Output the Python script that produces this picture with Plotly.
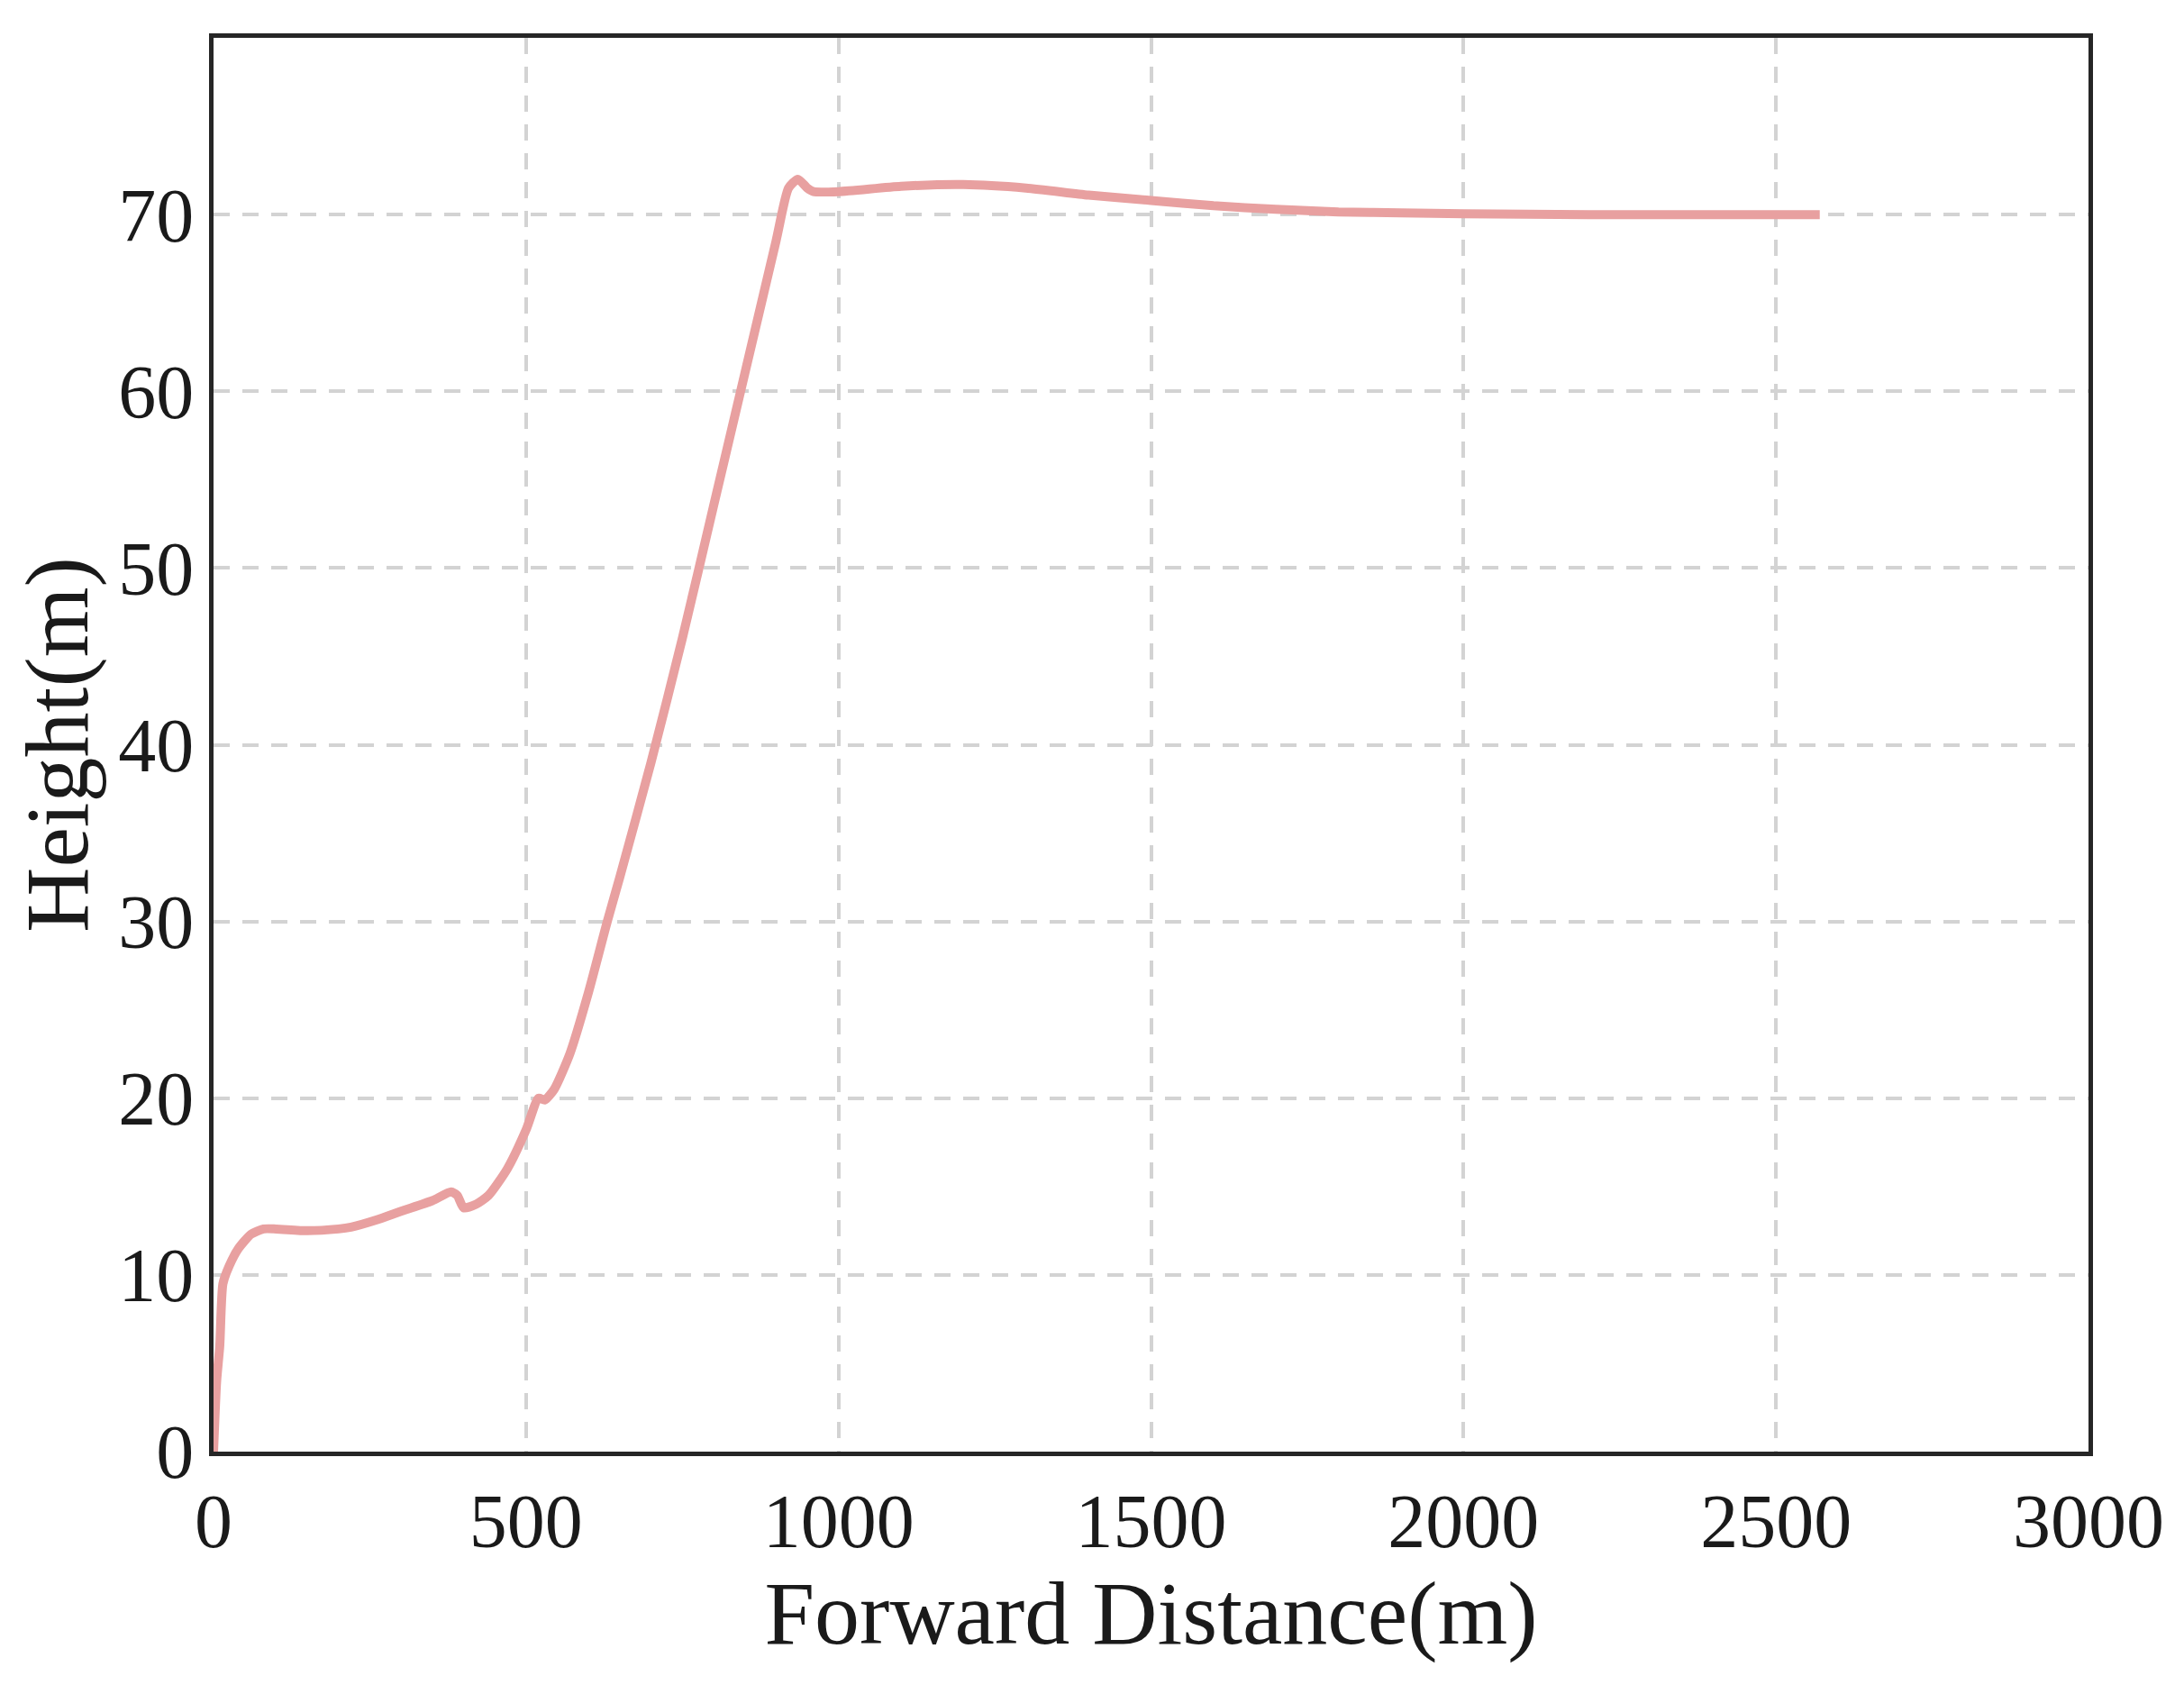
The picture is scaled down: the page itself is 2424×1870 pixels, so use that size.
import plotly.graph_objects as go

distance = [0, 5, 10, 15, 25, 40, 60, 80, 100, 150, 200, 220, 260, 300, 350, 380, 390, 400, 420, 440, 470, 500, 520, 530, 545, 570, 600, 630, 650, 700, 750, 800, 850, 900, 920, 935, 950, 960, 1000, 1100, 1200, 1300, 1400, 1500, 1600, 1700, 1800, 1900, 2000, 2200, 2400, 2570]
height = [0, 4, 6, 9.5, 10.5, 11.5, 12.3, 12.6, 12.6, 12.5, 12.6, 12.7, 13.1, 13.6, 14.2, 14.7, 14.5, 13.8, 14.0, 14.5, 16.0, 18.2, 20.0, 19.9, 20.5, 22.5, 26, 30, 32.5, 39, 46, 53.5, 61, 68.5, 71.5, 72, 71.5, 71.3, 71.3, 71.6, 71.7, 71.5, 71.1, 70.8, 70.5, 70.3, 70.15, 70.1, 70.05, 70, 70, 70]

fig = go.Figure(go.Scatter(x=distance, y=height, mode="lines", line=dict(color="#E8A0A0", width=10, shape="spline", smoothing=0.6)))
ax = dict(showline=True, mirror=True, linecolor="#262626", linewidth=5, ticks="outside", ticklen=0,
          showgrid=True, gridcolor="#D3D3D3", griddash="18px,14px", gridwidth=4, zeroline=False,
          tickfont=dict(size=84, color="#1a1a1a"))
fig.update_xaxes(ax, range=[0, 3000], dtick=500, title=dict(text="Forward Distance(m)", font=dict(size=100, color="#1a1a1a"), standoff=10))
fig.update_yaxes(ax, range=[0, 80], dtick=10, title=dict(text="Height(m)", font=dict(size=100, color="#1a1a1a"), standoff=10))
fig.update_layout(width=2424, height=1870, paper_bgcolor="white", plot_bgcolor="white",
                  font=dict(family="Liberation Serif"), showlegend=False,
                  margin=dict(l=229, r=114, t=34, b=267))
fig.write_html("out.html")
